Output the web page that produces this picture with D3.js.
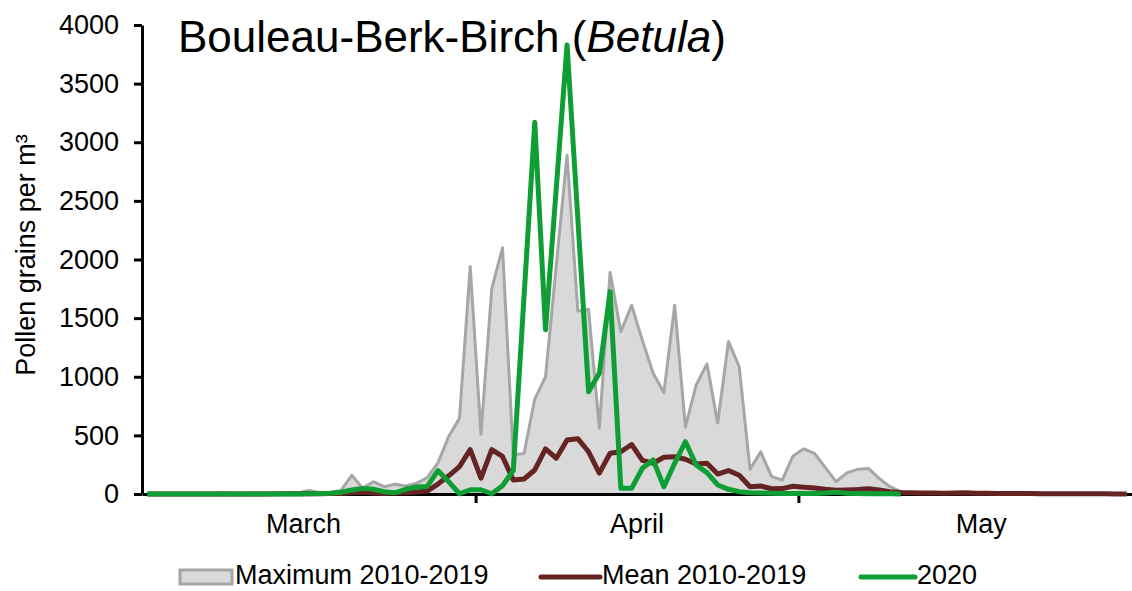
<!DOCTYPE html>
<html>
<head>
<meta charset="utf-8">
<script src="https://cdn.jsdelivr.net/npm/d3@7"></script>
<style>
  body { margin: 0; background: #fff; }
  text { font-family: "Liberation Sans", Arial, sans-serif; fill: #000; }
</style>
</head>
<body>
<script>
// Daily values from 1 March to 31 May (index 0 = 1 March)
var maxValues = [0, 0, 0, 2, 3, 2, 5, 12, 5, 3, 8, 5, 3, 10, 8, 30, 10, 12,
                 30, 160, 50, 105, 62, 83, 68, 90, 140, 265, 490, 645,
                 1940, 510, 1750, 2100, 335, 345, 810, 1000, 1950, 2890,
                 1560, 1575, 560, 1890, 1385, 1610, 1310, 1030, 865, 1610,
                 570, 930, 1110, 605, 1300, 1085, 210, 360, 150, 118,
                 325, 385, 347, 225, 105, 180, 210, 218, 133, 62,
                 20, 5, 8, 10, 6, 5, 10, 6, 4, 3,
                 3, 2, 2, 3, 2, 2, 1, 2, 1, 1, 1, 1];

var meanValues = [0, 0, 0, 0, 0, 0, 1, 1, 1, 1, 1, 1, 2, 2, 2, 3, 3, 4,
                  5, 10, 15, 8, 5, 8, 10, 18, 25, 85, 155, 233,
                  378, 135, 378, 320, 120, 128, 205, 384, 305, 460,
                  472, 360, 178, 347, 360, 422, 287, 262, 313, 318,
                  296, 256, 262, 170, 200, 160, 62, 68, 45, 46,
                  66, 58, 52, 40, 32, 35, 38, 45, 35, 20,
                  12, 10, 8, 8, 7, 8, 10, 7, 6, 5,
                  5, 4, 4, 3, 3, 3, 2, 2, 2, 2, 1, 1];

var values2020 = [0, 0, 0, 0, 0, 0, 0, 0, 0, 0, 0, 0, 0, 0, 0, 2, 4, 6,
                  15, 34, 48, 40, 20, 10, 40, 60, 65, 200, 105, 2,
                  36, 36, 2, 70, 200, 1680, 3170, 1400, 2610, 3830,
                  2350, 872, 1030, 1726, 48, 48, 220, 290, 62, 262,
                  446, 247, 182, 77, 40, 20, 10, 8, 6, 5,
                  5, 5, 4, 8, 15, 6, 4, 3, 2, 2,
                  1];

var yTicks = [0, 500, 1000, 1500, 2000, 2500, 3000, 3500, 4000];
var monthTicks = [new Date(2020, 3, 1), new Date(2020, 4, 1)];
var monthLabels = ["March", "April", "May"];
var monthLabelDates = [new Date(2020, 2, 16), new Date(2020, 3, 16), new Date(2020, 4, 18)];
var legendNames = ["Maximum 2010-2019", "Mean 2010-2019", "2020"];

var w = 1132, h = 591;
var plotLeft = 142, plotRight = 1132, plotTop = 25, plotBottom = 494;

var grey = '#a6a6a6', greyFill = '#d9d9d9', brown = '#632423', green = '#0f9e34';

function dayDate(i) {
  return new Date(2020, 2, 1 + i, 12);
}

var svg = d3.select('body')
            .append('svg')
            .attr('width', w)
            .attr('height', h);

var xScale = d3.scaleTime()
               .domain([new Date(2020, 2, 1), new Date(2020, 5, 1)])
               .range([plotLeft, plotRight]);

var yScale = d3.scaleLinear()
               .domain([0, 4000])
               .range([plotBottom, plotTop]);

// grey area for the maximum
var area = d3.area()
             .x(function(d, i) { return xScale(dayDate(i)); })
             .y0(yScale(0))
             .y1(function(d) { return yScale(d); });

var line = d3.line()
             .x(function(d, i) { return xScale(dayDate(i)); })
             .y(function(d) { return yScale(d); });

svg.append('path')
   .attr('d', area(maxValues))
   .attr('fill', greyFill);

// axes
svg.append('g')
   .attr('transform', 'translate(0,' + plotBottom + ')')
   .call(d3.axisBottom(xScale).tickValues(monthTicks).tickSize(9).tickSizeOuter(0).tickFormat(''))
   .call(function(g) {
      g.select('.domain').attr('stroke', '#000').attr('stroke-width', 3);
      g.selectAll('.tick line').attr('stroke', '#000').attr('stroke-width', 3);
   });

svg.append('g')
   .attr('transform', 'translate(' + plotLeft + ',0)')
   .call(d3.axisLeft(yScale).tickValues(yTicks).tickSize(8).tickSizeOuter(0)
           .tickPadding(15).tickFormat(d3.format('d')))
   .call(function(g) {
      g.select('.domain').attr('stroke', '#000').attr('stroke-width', 3);
      g.selectAll('.tick line').attr('stroke', '#000').attr('stroke-width', 3);
      g.selectAll('.tick text')
       .attr('font-family', '"Liberation Sans", Arial, sans-serif')
       .attr('font-size', '27px')
       .attr('fill', '#000');
   });

svg.append('path')
   .attr('d', line(maxValues))
   .attr('fill', 'none')
   .attr('stroke', grey)
   .attr('stroke-width', 3)
   .attr('stroke-linejoin', 'round');

svg.append('path')
   .attr('d', line(meanValues))
   .attr('fill', 'none')
   .attr('stroke', brown)
   .attr('stroke-width', 5)
   .attr('stroke-linejoin', 'round');

svg.append('path')
   .attr('d', line(values2020))
   .attr('fill', 'none')
   .attr('stroke', green)
   .attr('stroke-width', 5)
   .attr('stroke-linejoin', 'round');

// month labels
svg.selectAll('text.month')
   .data(monthLabels)
   .enter()
   .append('text')
   .attr('class', 'month')
   .attr('x', function(d, i) { return xScale(monthLabelDates[i]); })
   .attr('y', 533)
   .attr('text-anchor', 'middle')
   .attr('font-size', '27px')
   .text(function(d) { return d; });

// y title
svg.append('text')
   .attr('transform', 'translate(35,' + 255 + ') rotate(-90)')
   .attr('text-anchor', 'middle')
   .attr('font-size', '27px')
   .text('Pollen grains per m³');

// chart title
var title = svg.append('text')
   .attr('x', 178)
   .attr('y', 52)
   .attr('font-family', 'Lato, "Open Sans", sans-serif')
   .attr('font-size', '44px');
title.append('tspan').text('Bouleau-Berk-Birch (');
title.append('tspan').attr('font-style', 'italic').text('Betula');
title.append('tspan').text(')');

// legend
var lg = svg.append('g').attr('font-size', '27px');
lg.append('rect')
  .attr('x', 180).attr('y', 570).attr('width', 52).attr('height', 14)
  .attr('fill', greyFill).attr('stroke', grey).attr('stroke-width', 3);
lg.append('line')
  .attr('x1', 541).attr('x2', 600).attr('y1', 577).attr('y2', 577)
  .attr('stroke', brown).attr('stroke-width', 5).attr('stroke-linecap', 'round');
lg.append('line')
  .attr('x1', 861).attr('x2', 915).attr('y1', 577).attr('y2', 577)
  .attr('stroke', green).attr('stroke-width', 5).attr('stroke-linecap', 'round');
var legendX = [235, 602, 917];
lg.selectAll('text')
  .data(legendNames)
  .enter()
  .append('text')
  .attr('x', function(d, i) { return legendX[i]; })
  .attr('y', 584)
  .text(function(d) { return d; });
</script>
</body>
</html>
